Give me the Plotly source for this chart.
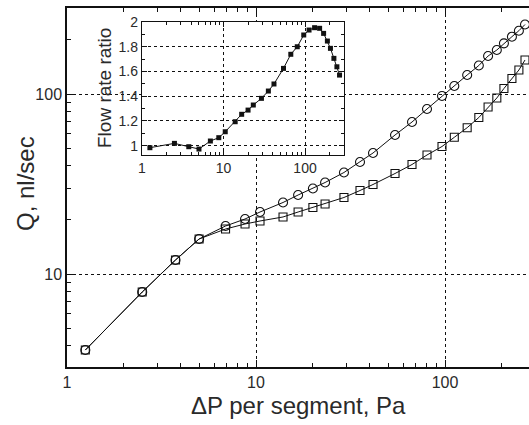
import plotly.graph_objects as go

# Pressure drop per segment (Pa)
dp = [1.25, 2.5, 3.75, 5.0, 6.9, 8.75, 10.5, 13.9, 16.7, 20.0, 23.2, 29.2, 35.5, 41.6,
      54.4, 66.9, 80.3, 96.4, 112, 131, 151, 169, 188, 205, 226, 246, 265]
# Flow rate, circles (nl/sec)
q_circle = [3.78, 7.94, 11.96, 15.65, 18.48, 20.21, 22.10, 24.96, 27.47, 29.85, 32.23, 36.64,
            41.90, 47.01, 59.18, 69.89, 82.54, 97.48, 110.8, 127.5, 144.0, 162.6, 175.5,
            191.2, 208.2, 224.7, 243.3]
# Flow rate, squares (nl/sec)
q_square = [3.78, 7.94, 11.96, 15.65, 17.78, 18.96, 19.70, 20.74, 22.10, 23.41, 24.48, 26.61,
            29.10, 31.42, 36.17, 40.58, 45.83, 51.09, 57.47, 65.00, 74.03, 84.70, 95.02,
            107.3, 121.9, 135.9, 154.5]
# Flow rate ratio (inset)
ratio = [0.984, 1.019, 0.992, 0.973, 1.038, 1.065, 1.113, 1.194, 1.254, 1.288, 1.329, 1.383,
         1.442, 1.499, 1.625, 1.739, 1.80, 1.895, 1.935, 1.954, 1.949, 1.908, 1.846, 1.787,
         1.706, 1.638, 1.571]

FONT = "Liberation Sans, Arial, Helvetica, sans-serif"
INK = "#111111"
TXT = "#2a2a2a"

W, H = 529, 425
L, R, T, B = 67, 0, 8, 58
PW, PH = W - L - R, H - T - B


def px(xp):
    return (xp - L) / PW


def py(yp):
    return (H - B - yp) / PH


fig = go.Figure()

fig.add_trace(go.Scatter(
    x=dp, y=q_circle, mode="lines+markers", xaxis="x", yaxis="y",
    line=dict(color=INK, width=1),
    marker=dict(symbol="circle-open", size=9, color=INK, line=dict(width=1.1)),
    showlegend=False))
fig.add_trace(go.Scatter(
    x=dp, y=q_square, mode="lines+markers", xaxis="x", yaxis="y",
    line=dict(color=INK, width=1),
    marker=dict(symbol="square-open", size=8, color=INK, line=dict(width=1.1)),
    showlegend=False))
fig.add_trace(go.Scatter(
    x=dp, y=ratio, mode="lines+markers", xaxis="x2", yaxis="y2",
    line=dict(color=INK, width=1),
    marker=dict(symbol="square", size=5, color=INK),
    showlegend=False))

axis_common = dict(
    showline=True, linecolor=INK, linewidth=1.5,
    ticks="inside", tickcolor=INK, tickwidth=1,
    showgrid=True, gridcolor=INK, griddash="dot", gridwidth=1,
    zeroline=False, automargin=False,
    tickfont=dict(family=FONT, size=16, color=TXT),
)
inset_common = {**axis_common, "linewidth": 1.3,
                "tickfont": dict(family=FONT, size=14, color=TXT)}

fig.update_layout(
    width=W, height=H,
    margin=dict(l=L, r=R, t=T, b=B, autoexpand=False),
    paper_bgcolor="white", plot_bgcolor="white",
    font=dict(family=FONT, color=TXT),
    xaxis=dict(
        type="log", range=[0, 2.4444], domain=[0, 1], anchor="y",
        tickvals=[1, 10, 100], ticktext=["1", "10", "100"], ticklen=7,
        mirror="ticks",
        minor=dict(ticks="inside", ticklen=4, tickcolor=INK, dtick="D1", showgrid=False),
        **axis_common),
    yaxis=dict(
        type="log", range=[0.4833, 2.4778], domain=[0, 1], anchor="x",
        tickvals=[10, 100], ticktext=["10", "100"], ticklen=7,
        mirror=False,
        minor=dict(ticks="inside", ticklen=4, tickcolor=INK, dtick="D1", showgrid=False),
        **axis_common),
    xaxis2=dict(
        type="log", range=[0, 2.478], domain=[px(142), px(344)], anchor="y2",
        tickvals=[1, 10, 100], ticktext=["1", "10", "100"], ticklen=5,
        mirror="ticks",
        minor=dict(ticks="inside", ticklen=3, tickcolor=INK, dtick="D1", showgrid=False),
        **inset_common),
    yaxis2=dict(
        range=[0.925, 2.0], domain=[py(155), py(22)], anchor="x2",
        tickvals=[1.0, 1.2, 1.4, 1.6, 1.8, 2.0], ticktext=["1", "1.2", "1.4", "1.6", "1.8", "2"],
        ticklen=5, mirror="ticks",
        minor=dict(ticks="inside", ticklen=3, tickcolor=INK, dtick=0.1, showgrid=False),
        **inset_common),
    annotations=[
        dict(text="ΔP per segment, Pa", xref="paper", yref="paper",
             x=px(298), y=py(405), xanchor="center", yanchor="middle", showarrow=False,
             font=dict(family=FONT, size=24, color=TXT)),
        dict(text="Q, nl/sec", xref="paper", yref="paper", textangle=-90,
             x=px(25), y=py(184), xanchor="center", yanchor="middle", showarrow=False,
             font=dict(family=FONT, size=24, color=TXT)),
        dict(text="Flow rate ratio", xref="paper", yref="paper", textangle=-90,
             x=px(105), y=py(88), xanchor="center", yanchor="middle", showarrow=False,
             font=dict(family=FONT, size=19, color=TXT)),
    ],
)

fig.write_html("out.html",
               config={"displayModeBar": False},
               post_script="document.body.style.margin='0';document.body.style.overflow='hidden';")
